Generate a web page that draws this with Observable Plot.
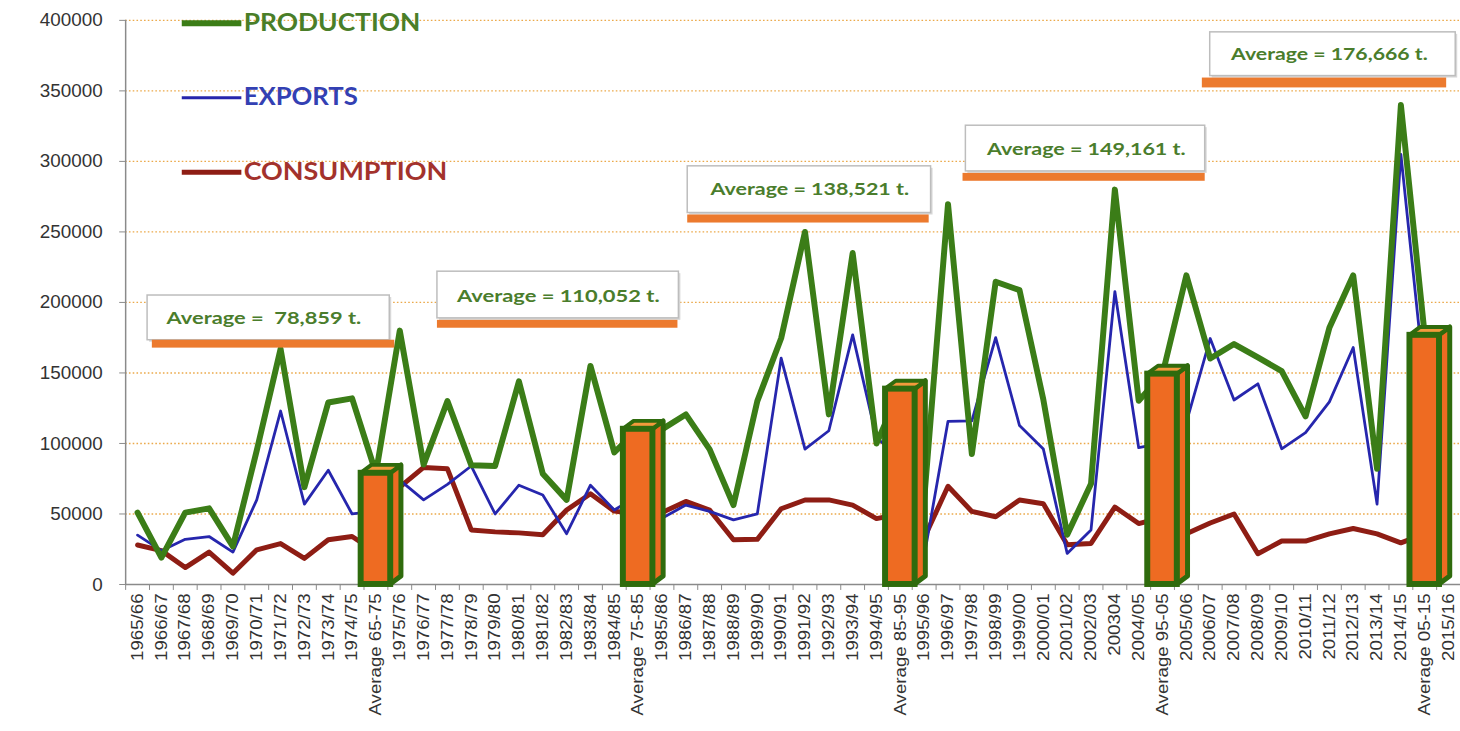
<!DOCTYPE html>
<html><head><meta charset="utf-8">
<script src="https://cdn.jsdelivr.net/npm/d3@7"></script>
<script src="https://cdn.jsdelivr.net/npm/@observablehq/plot@0.6"></script>
<style>html,body{margin:0;padding:0;overflow:hidden;background:#fff}</style>
</head><body><div id="chart"></div>
<script>
// ---------- DATA ----------
const categories = [
  "1965/66","1966/67","1967/68","1968/69","1969/70","1970/71","1971/72","1972/73","1973/74","1974/75","Average 65-75",
  "1975/76","1976/77","1977/78","1978/79","1979/80","1980/81","1981/82","1982/83","1983/84","1984/85","Average 75-85",
  "1985/86","1986/87","1987/88","1988/89","1989/90","1990/91","1991/92","1992/93","1993/94","1994/95","Average 85-95",
  "1995/96","1996/97","1997/98","1998/99","1999/00","2000/01","2001/02","2002/03","200304","2004/05","Average 95-05",
  "2005/06","2006/07","2007/08","2008/09","2009/10","2010/11","2011/12","2012/13","2013/14","2014/15","Average 05-15",
  "2015/16"
];
const production = [
  51000, 19000, 51000, 54000, 27000, 95000, 167000, 69000, 129000, 132000, 78859,
  180000, 85000, 130000, 84500, 84000, 144000, 78500, 60000, 155000, 93700, 110052,
  110000, 120600, 95800, 56300, 130000, 174600, 250000, 120600, 235000, 100000, 138521,
  60000, 269700, 92500, 214700, 208700, 131000, 35200, 71400, 280000, 130300, 149161,
  219200, 160200, 170500, 161000, 151300, 119200, 182000, 219200, 82000, 340000, 176666,
  null
];
const exportsVals = [
  35000, 24000, 32000, 34000, 23000, 60000, 123000, 57000, 81000, 50000, 52000,
  74000, 60000, 71000, 84000, 50000, 70400, 63400, 36000, 70400, 52800, 63000,
  47000, 56300, 51800, 45800, 50000, 160500, 96000, 109000, 177000, 104000, 89600,
  20000, 115700, 116000, 175000, 112700, 96000, 22000, 38700, 207700, 97000, 100200,
  115000, 174400, 130800, 142300, 96200, 107700, 129500, 168000, 57000, 305000, 142700,
  null
];
const consumption = [
  28000, 24000, 12000, 23000, 8000, 24600, 29000, 18500, 31700, 34000, 23000,
  69000, 83000, 82000, 38700, 37300, 36600, 35200, 52800, 64300, 52000, 50000,
  51000, 58900, 52800, 31700, 32000, 53700, 59900, 60000, 56300, 46700, 50000,
  33000, 69600, 51800, 48000, 59900, 57300, 28200, 29100, 54900, 43200, 47500,
  36000, 43600, 50000, 21800, 30800, 30800, 35900, 39700, 35900, 29500, 36000,
  null
];
const averageValues = [78859, 110052, 138521, 149161, 176666];
const averageLabels = ["Average =  78,859 t.", "Average = 110,052 t.", "Average = 138,521 t.", "Average = 149,161 t.", "Average = 176,666 t."];
const seriesNames = ["PRODUCTION", "EXPORTS", "CONSUMPTION"];
const yTicks = [0, 50000, 100000, 150000, 200000, 250000, 300000, 350000, 400000];

// ---------- STYLE / LAYOUT ----------
const colors = {production: "#3b7d17", exports: "#2626ad", consumption: "#8e1d14",
  barFill: "#ee6b22", barStroke: "#2f6b0d", note: "#ec7a2e", grid: "#eba94a",
  legendText: ["#4a7e28", "#3340b3", "#a3322c"], boxText: "#4a7d2c"};
const layout = {
  bandHalf: 0.62, depthX: 0.45, depthY: 5600,
  legendX1: 1.875, legendX2: 4.375, legendTextX: 4.45,
  legendY: [398000, 345100, 292300], legendWidths: [6, 3, 5], legendTextLen: [178, 115, 205],
  boxes: [
    {x1: 0.42, x2: 10.58, yTop: 204900, yBot: 173200, bx1: 0.62, bx2: 10.79, bTop: 173200, bBot: 167600, tx: 5.3, ty: 188800},
    {x1: 12.58, x2: 22.71, yTop: 221800, yBot: 188700, bx1: 12.58, bx2: 22.67, bTop: 187300, bBot: 181700, tx: 17.65, ty: 204500},
    {x1: 23.08, x2: 33.29, yTop: 296500, yBot: 263400, bx1: 23.08, bx2: 33.21, bTop: 262000, bBot: 256300, tx: 28.2, ty: 280300},
    {x1: 34.75, x2: 44.79, yTop: 325300, yBot: 292900, bx1: 34.63, bx2: 44.79, bTop: 291500, bBot: 285900, tx: 39.8, ty: 308800},
    {x1: 45.0, x2: 55.3, yTop: 391500, yBot: 360500, bx1: 44.67, bx2: 54.92, bTop: 359100, bBot: 352100, tx: 50.0, ty: 376300}
  ],
  boxTextLen: [196, 204, 200, 200, 198],
  xLabelStretch: 1.14
};

// ---------- TABLES ----------
const rows = categories.map((c, i) => ({i, c, production: production[i], exports: exportsVals[i], consumption: consumption[i]}));
const avgIdx = categories.map((c, i) => c.startsWith("Average") ? i : -1).filter(i => i >= 0);
const bars = avgIdx.map((i, k) => ({i, value: averageValues[k], label: averageLabels[k], box: layout.boxes[k]}));
const bh = layout.bandHalf, dx = layout.depthX, dy = layout.depthY;
const sideRows = bars.flatMap(b => [
  {bar: b.i, x: b.i + bh, y1: 0, y2: b.value},
  {bar: b.i, x: b.i + bh + dx, y1: dy, y2: b.value + dy}
]);
const topRows = bars.flatMap(b => [
  {bar: b.i, x: b.i - bh, y1: b.value, y2: b.value},
  {bar: b.i, x: b.i - bh + dx, y1: b.value, y2: b.value + dy},
  {bar: b.i, x: b.i + bh, y1: b.value, y2: b.value + dy},
  {bar: b.i, x: b.i + bh + dx, y1: b.value + dy, y2: b.value + dy}
]);
const legendRows = seriesNames.map((n, k) => ({n, k, y: layout.legendY[k]}));
const seriesColors = [colors.production, colors.exports, colors.consumption];
const boundaries = d3.range(-0.5, 56, 1);

const font = "'Liberation Sans', Arial, sans-serif";
const chart = Plot.plot({
  width: 1470, height: 731,
  marginLeft: 126, marginRight: 0, marginTop: 20, marginBottom: 143,
  x: {type: "linear", domain: [-0.5, 55.5], axis: null},
  y: {type: "linear", domain: [0, 400000], axis: null},
  style: {fontFamily: font, background: "#fff", overflow: "visible"},
  marks: [
    Plot.ruleY(yTicks.filter(d => d > 0), {stroke: colors.grid, strokeWidth: 1.4, strokeDasharray: "1.6,2.2"}),
    Plot.axisY({ticks: yTicks, tickSize: 6, tickPadding: 17, tickFormat: d => String(d), fontSize: 19, stroke: "#8a8a8a", fill: "#333", label: null}),
    Plot.ruleX([-0.5], {y1: 0, y2: 400000, stroke: "#8a8a8a", strokeWidth: 1.5}),
    Plot.ruleY([0], {stroke: "#8a8a8a", strokeWidth: 1.5}),
    Plot.axisX(boundaries, {tickSize: 6, tickFormat: () => "", stroke: "#8a8a8a", label: null}),
    // lines
    Plot.line(rows, {x: "i", y: "consumption", stroke: colors.consumption, strokeWidth: 5, strokeLinejoin: "round"}),
    Plot.line(rows, {x: "i", y: "exports", stroke: colors.exports, strokeWidth: 2.8, strokeLinejoin: "round"}),
    Plot.line(rows, {x: "i", y: "production", stroke: colors.production, strokeWidth: 6, strokeLinejoin: "round"}),
    // 3D bars
    Plot.areaY(sideRows, {x: "x", y1: "y1", y2: "y2", z: "bar", fill: colors.barFill, stroke: colors.barStroke, strokeWidth: 5, strokeLinejoin: "round"}),
    Plot.areaY(topRows, {x: "x", y1: "y1", y2: "y2", z: "bar", fill: "#f39a3c", stroke: colors.barStroke, strokeWidth: 4, strokeLinejoin: "round"}),
    Plot.rectY(bars, {x1: d => d.i - bh, x2: d => d.i + bh, y1: 0, y2: "value", fill: colors.barFill, stroke: colors.barStroke, strokeWidth: 6}),
    // x labels
    Plot.text(rows, {x: "i", y: 0, dy: 9, text: "c", rotate: -90, textAnchor: "end", fontSize: 16.5, fill: "#333"}),
    // annotation boxes
    Plot.rect(bars, {x1: d => d.box.x1, x2: d => d.box.x2, y1: d => d.box.yBot, y2: d => d.box.yTop, fill: "#d8d8d8", dx: 2, dy: 2}),
    Plot.rect(bars, {x1: d => d.box.x1, x2: d => d.box.x2, y1: d => d.box.yBot, y2: d => d.box.yTop, fill: "#fff", stroke: "#bdbdbd", strokeWidth: 1.5}),
    Plot.rect(bars, {x1: d => d.box.bx1, x2: d => d.box.bx2, y1: d => d.box.bBot, y2: d => d.box.bTop, fill: colors.note}),
    Plot.text(bars, {x: d => d.box.tx, y: d => d.box.ty, text: "label", fontSize: 18, fontWeight: "bold", fontFamily: "Lato, 'Open Sans', sans-serif", fill: colors.boxText}),
    // legend
    ...legendRows.map(r => Plot.ruleY([r.y], {x1: layout.legendX1, x2: layout.legendX2, stroke: seriesColors[r.k], strokeWidth: layout.legendWidths[r.k]})),
    Plot.text(legendRows, {x: layout.legendTextX, y: "y", text: "n", textAnchor: "start", fontSize: 24, fontWeight: "bold", fontFamily: "Lato, 'Open Sans', sans-serif", fill: d => colors.legendText[d.k]})
  ]
});
document.getElementById("chart").appendChild(chart);

// stretch texts to the reference lengths (matched by their content)
function stretch(node, len) {
  node.setAttribute("textLength", len);
  node.setAttribute("lengthAdjust", "spacingAndGlyphs");
}
d3.select(chart).selectAll("text").each(function() {
  const t = this.textContent;
  const li = seriesNames.indexOf(t);
  const bi = averageLabels.indexOf(t);
  if (li >= 0) stretch(this, layout.legendTextLen[li]);
  else if (bi >= 0) stretch(this, layout.boxTextLen[bi]);
  else if (categories.includes(t)) stretch(this, this.getComputedTextLength() * layout.xLabelStretch);
});
</script>
</body></html>
